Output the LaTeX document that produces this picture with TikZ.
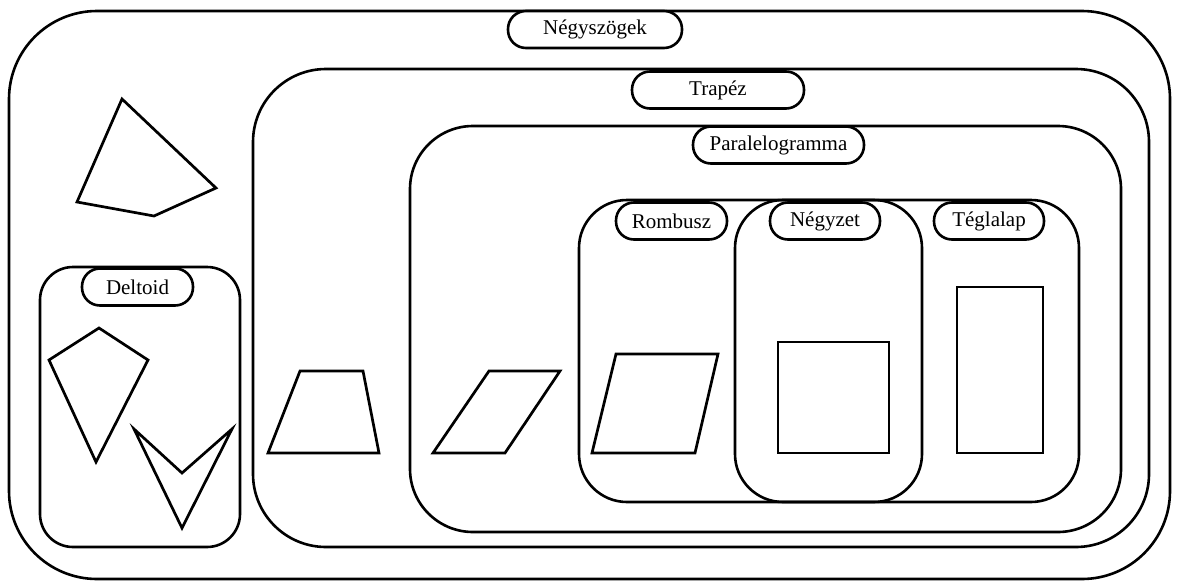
\documentclass[tikz,border=0pt]{standalone}
\usepackage{fontspec}
\setmainfont{Liberation Serif}
\usepackage{tikz}

\begin{document}
\begin{tikzpicture}[
        x=1pt, y=-1pt,
        every node/.style={font=\fontsize{21}{25}\selectfont},
        setbox/.style={draw=black, line width=2.6pt, inner sep=0pt},
        tag/.style={
            draw=black,
            line width=2.6pt,
            fill=white,
            rounded corners=18pt,
            minimum height=37pt,
            inner sep=0pt
        },
        poly/.style={draw=black, line width=2.7pt, line join=miter}
    ]

    \useasboundingbox (0,0) rectangle (1180,581);

    \node[setbox, rounded corners=88pt,
        minimum width=1161pt, minimum height=568pt] (negyszog) at (589.5,295) {};
    \node[setbox, rounded corners=73pt,
        minimum width=896pt, minimum height=478pt] (trapez) at (701,308) {};
    \node[setbox, rounded corners=63pt,
        minimum width=711pt, minimum height=406pt] (paral) at (765.5,329) {};
    \node[setbox, rounded corners=48pt,
        minimum width=500pt, minimum height=302pt] (rombusz) at (829,351) {};
    \node[setbox, rounded corners=48pt,
        minimum width=187pt, minimum height=302pt] (negyzet) at (828.5,351) {};
    \node[setbox, rounded corners=33pt,
        minimum width=200pt, minimum height=280pt] (deltoid) at (140,407) {};

    \node[tag, minimum width=174pt] (lnegyszog) at (595,29.5) {Négyszögek};
    \node[tag, minimum width=172pt] (ltrapez)   at (718,90)   {Trapéz};
    \node[tag, minimum width=171pt] (lparal)    at (778.5,145) {Paralelogramma};
    \node[tag, minimum width=111pt] (lrombusz)  at (671.5,221) {Rombusz};
    \node[tag, minimum width=110pt] (lnegyzet)  at (825,221)  {Négyzet};
    \node[tag, minimum width=110pt] (lteglalap) at (989,221)  {Téglalap};
    \node[tag, minimum width=111pt] (ldeltoid)  at (137.5,287) {Deltoid};

    % altalanos negyszog
    \draw[poly] (122,99) -- (216,188) -- (154,216) -- (77,202) -- cycle;

    % deltoidok
    \draw[poly] (99,328) -- (148,360) -- (96,462) -- (49,360) -- cycle;
    \draw[poly] (134,429) -- (182,473) -- (232,429) -- (182,528) -- cycle;

    \draw[poly] (300,371) -- (363,371) -- (379,453) -- (268,453) -- cycle;
    \draw[poly] (489,371) -- (560,371) -- (505,453) -- (433,453) -- cycle;
    \draw[poly] (616,354) -- (718,354) -- (695,453) -- (592,453) -- cycle;
    \draw[poly] (778,342) rectangle (889,453);
    \draw[poly] (957,287) rectangle (1043,453);

\end{tikzpicture}
\end{document}
